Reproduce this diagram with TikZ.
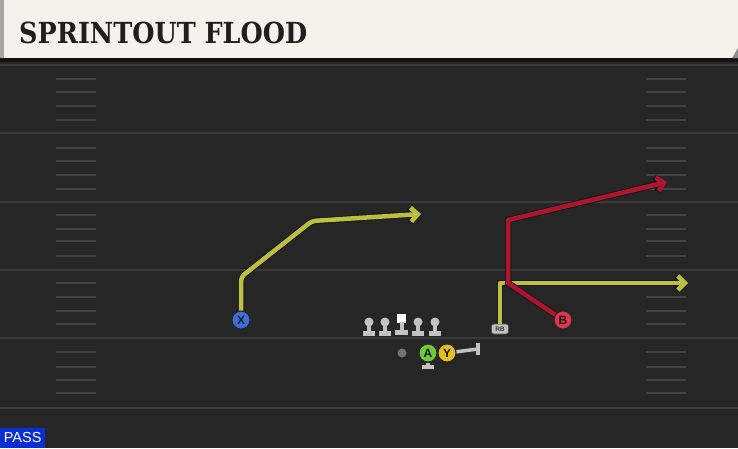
\documentclass[tikz,border=0pt]{standalone}
\usepackage{fontspec}
\usepackage{graphicx}
\newfontfamily\titlefont{DejaVu Serif}
\newfontfamily\labelfont{Liberation Sans}
\usetikzlibrary{arrows.meta}

\definecolor{field}{HTML}{262626}
\definecolor{yardline}{HTML}{3A3A3A}
\definecolor{hashmark}{HTML}{424242}
\definecolor{cream}{HTML}{F4F2EC}
\definecolor{routeyellow}{HTML}{BDBE42}
\definecolor{routered}{HTML}{B0152F}
\definecolor{xblue}{HTML}{3C6EDC}
\definecolor{bred}{HTML}{E2344A}
\definecolor{agreen}{HTML}{6CCB3A}
\definecolor{ygold}{HTML}{E6BE24}
\definecolor{linegray}{HTML}{C2C2C2}
\definecolor{passblue}{HTML}{0A2ED6}

\tikzset{
  player/.style={circle, draw=black!85, line width=1pt, minimum size=18pt,
    inner sep=0pt, font=\labelfont\bfseries\fontsize{12}{12}\selectfont, text=black!90},
  rbbox/.style={rounded corners=2.5pt, fill=linegray, draw=black!70, line width=0.6pt,
    minimum width=17pt, minimum height=10pt, inner sep=0pt,
    font=\labelfont\bfseries\fontsize{6.5}{6.5}\selectfont, text=black!80},
  qbdot/.style={circle, fill=black!55, minimum size=9pt, inner sep=0pt},
  route/.style={line width=4.5pt, line join=round,
    -{Straight Barb[length=7pt,width=14pt]},
    preaction={draw=black!90, line width=6.5pt}},
  yroute/.style={route, draw=routeyellow},
  rroute/.style={route, draw=routered},
  blockline/.style={draw=linegray, line width=3.5pt},
  lineman/.style={fill=linegray},
  yard/.style={draw=yardline, line width=2.5pt},
  hash/.style={draw=hashmark, line width=1.8pt}
}

\begin{document}
\begin{tikzpicture}[x=1pt,y=-1pt]
  \useasboundingbox (0,0) rectangle (738,448);
  \fill[field] (0,0) rectangle (738,448);

  % field lines
  \draw[yard] (0,65) -- (738,65);
  \draw[yard] (0,133) -- (738,133);
  \draw[yard] (0,202) -- (738,202);
  \draw[yard] (0,270) -- (738,270);
  \draw[yard] (0,338) -- (738,338);
  \draw[yard] (0,408) -- (738,408);
  \foreach \hy in {79,92,106,120,148,161,175,189,215,229,241,256,283,297,311,324,352,367,380,393} {
    \draw[hash] (56,\hy) -- (96,\hy);
    \draw[hash] (646,\hy) -- (686,\hy);
  }

  % header
  \fill[black!92] (0,56) rectangle (738,62);
  \fill[cream] (0,0) rectangle (738,58);
  \fill[black!35] (0,0) rectangle (4,58);
  \fill[black!45] (732,58) -- (738,58) -- (738,48) -- cycle;
  \node[anchor=base west, inner sep=0pt, text=black!88] (title) at (19,43)
    {\titlefont\bfseries\fontsize{29}{29}\selectfont\scalebox{0.88}[1]{SPRINTOUT FLOOD}};

  % players
  \node[player, fill=xblue] (X) at (241,320) {X};
  \node[player, fill=bred] (B) at (563,320) {B};
  \node[rbbox] (RB) at (500,329) {RB};
  \node[qbdot] (QB) at (402,353) {};
  \node[player, fill=agreen] (A) at (428,353) {A};
  \node[player, fill=ygold] (Y) at (447,353) {Y};

  % line
  \foreach \lx in {369,385,418,435} {
    \fill[lineman] (\lx,322) circle (4.5);
    \fill[lineman] (\lx-2,322) rectangle (\lx+2,332);
    \fill[lineman] (\lx-6,331) rectangle (\lx+6,336);
  }
  \fill[white] (397,314) rectangle (406,323);
  \fill[lineman] (399.5,322) rectangle (403.5,331);
  \fill[lineman] (395,330) rectangle (408,335);

  % blocks
  \coordinate (a1) at (428,367);
  \draw[blockline] (A) -- (a1);
  \draw[blockline] ([xshift=-6pt]a1) -- ([xshift=6pt]a1);
  \coordinate (y1) at (478,349);
  \draw[blockline] (Y) -- (y1);
  \draw[blockline, line width=4.5pt] ([yshift=-6pt]y1) -- ([yshift=6pt]y1);

  % routes
  \coordinate (x1) at (241,277);
  \coordinate (x2) at (312,221);
  \coordinate (x3) at (421,214);
  \draw[yroute, rounded corners=4pt] (X) -- (x1) -- (x2) -- (x3);
  \coordinate (r1) at (500,283);
  \coordinate (r2) at (688,283);
  \draw[yroute] (RB) -- (r1) -- (r2);
  \coordinate (b1) at (508,283);
  \coordinate (b2) at (508,220);
  \coordinate (b3) at (667,182);
  \draw[rroute] (B) -- (b1) -- (b2) -- (b3);

  % play type
  \node[anchor=south west, fill=passblue, minimum width=45pt, minimum height=20pt,
    inner sep=0pt, text=white, font=\labelfont\fontsize{14.5}{14.5}\selectfont] (pass) at (0,448) {PASS};
\end{tikzpicture}
\end{document}
